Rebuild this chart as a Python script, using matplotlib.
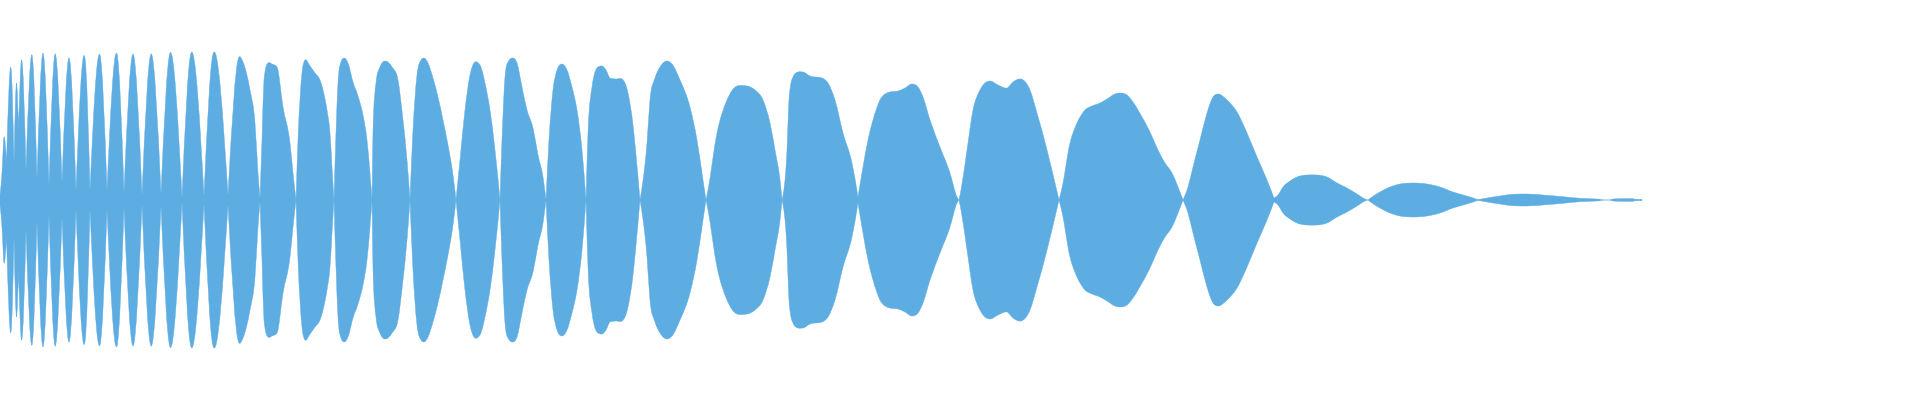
import numpy as np
import matplotlib
matplotlib.use("Agg")
import matplotlib.pyplot as plt
from matplotlib.path import Path
from matplotlib.patches import PathPatch

# Sample positions (time) and waveform amplitude (mirrored around 0)
t = [0, 2, 4, 6.5, 11, 14, 16.5, 18.5, 21.5, 26, 32, 37, 43, 49, 55, 62, 69, 76,
     85, 90, 100, 107, 117, 124, 133, 142, 151, 161, 170, 182, 191, 204, 213, 228,
     239, 243, 250, 255, 258, 260,
     262, 264, 268, 272, 277, 283, 290, 293, 296,
     298, 302, 305, 310, 315, 320, 323, 327, 330, 332, 334,
     336, 338, 341, 344, 348, 353, 358, 363, 367, 370, 372,
     373, 376, 380, 385, 392, 398, 403, 407, 410,
     413, 417, 421, 424, 428, 433, 438, 443, 448, 453, 456,
     460, 465, 470, 475, 480, 485, 490, 495, 500,
     502, 505, 508, 513, 517, 522, 527, 533, 538, 543, 546,
     549, 553, 557, 562, 567, 572, 577, 582, 586,
     588, 592, 595, 598, 602, 606, 610, 616, 622, 628, 633, 636, 640,
     647, 650, 655, 660, 667, 672, 680, 690, 697, 703, 706,
     708, 717, 727, 737, 747, 755, 763, 770, 775, 780, 782,
     787, 789, 793, 798, 803, 810, 822, 828, 835, 843, 852, 858,
     863, 868, 873, 880, 890, 898, 905, 912, 918, 923, 930, 940, 950, 957, 959,
     961, 967, 973, 980, 985, 990, 998, 1007, 1013, 1021, 1030, 1037, 1047, 1055, 1059,
     1062, 1070, 1077, 1085, 1092, 1100, 1107, 1115, 1120, 1127, 1133, 1142, 1150,
     1158, 1165, 1172, 1178, 1183,
     1188, 1193, 1200, 1207, 1213, 1218, 1227, 1237, 1247, 1257, 1267, 1274,
     1278, 1283, 1290, 1297, 1307, 1317, 1327, 1337, 1347, 1357, 1365, 1368,
     1372, 1380, 1390, 1400, 1413, 1427, 1440, 1453, 1467, 1477,
     1480, 1487, 1500, 1513, 1527, 1543, 1563, 1580, 1597, 1600, 1603,
     1610, 1612, 1618, 1633, 1635, 1642]

amp = [5, 27, 63, 37, 132, 37, 117, 70, 140, 30, 145, 22, 147, 15, 146, 18, 142, 10,
       142, 10, 145, 10, 146, 8, 146, 5, 146, 6, 147, 3, 147, 4, 146, 5,
       143, 138, 110, 77, 27, 2,
       60, 120, 137, 136, 133, 93, 57, 27, 0,
       60, 127, 140, 134, 127, 120, 110, 90, 67, 33, 0,
       67, 117, 138, 142, 137, 118, 104, 85, 60, 27, 0,
       67, 117, 133, 139, 133, 120, 80, 40, 0,
       70, 125, 140, 142, 137, 122, 103, 80, 55, 25, 0,
       40, 90, 125, 138, 135, 117, 90, 50, 0,
       60, 123, 138, 142, 137, 113, 90, 72, 45, 23, 0,
       60, 110, 130, 136, 130, 113, 90, 50, 0,
       67, 113, 128, 133, 134, 130, 122, 121, 121, 107, 75, 45, 0,
       57, 100, 122, 133, 139, 136, 120, 93, 60, 20, 0,
       10, 67, 100, 114, 114, 110, 100, 77, 50, 20, 0,
       50, 100, 123, 128, 128, 124, 122, 117, 100, 67, 37, 3,
       33, 60, 80, 100, 108, 109, 112, 116, 113, 103, 80, 53, 27, 3, 0,
       10, 50, 90, 110, 117, 119, 115, 112, 118, 121, 110, 87, 50, 17, 0,
       12, 57, 77, 90, 94, 97, 101, 106, 107, 105, 98, 83, 68,
       50, 37, 27, 13, 0,
       13, 33, 60, 87, 103, 106, 100, 88, 67, 43, 20, 2,
       5, 13, 19, 23, 25, 25, 23, 17, 12, 6, 1, 0,
       3, 8, 13, 16, 17, 16, 13, 8, 4, 0.7,
       0.7, 2, 4, 5.7, 6, 5, 3.3, 1.7, 1.0, 0.8, 0,
       0, 0.8, 1.2, 1.2, 0.8, 0.8]

COLOR = "#5dade2"


def bezier_segments(x, y):
    """Smooth cubic curve through the samples, with sharp pinches at lobe minima."""
    x = np.asarray(x, float)
    y = np.asarray(y, float)
    n = len(x)
    h = np.diff(x)
    s = np.diff(y) / h
    corner = np.zeros(n, bool)
    corner[0] = corner[-1] = True
    for i in range(1, n - 1):
        if y[i] <= y[i - 1] and y[i] <= y[i + 1] and y[i] <= 0.5 * max(y[i - 1], y[i + 1]):
            corner[i] = True
    m = np.zeros(n)
    for i in range(1, n - 1):
        if corner[i]:
            continue
        h0, h1 = h[i - 1], h[i]
        s0, s1 = s[i - 1], s[i]
        p = (s0 * h1 + s1 * h0) / (h0 + h1)
        if s0 * s1 <= 0:
            # local extremum: keep it rounded but not flat-limited
            m[i] = 0.5 * p
        else:
            m[i] = np.sign(p) * min(abs(p), 2.5 * min(abs(s0), abs(s1)))
    segs = []
    for i in range(n - 1):
        if corner[i]:
            ms = s[i] if corner[i + 1] else (3 * s[i] - m[i + 1]) / 2
        else:
            ms = m[i]
        if corner[i + 1]:
            me = s[i] if corner[i] else (3 * s[i] - m[i]) / 2
        else:
            me = m[i + 1]
        dx = h[i]
        segs.append(((x[i], y[i]),
                     (x[i] + dx / 3, max(0.0, y[i] + ms * dx / 3)),
                     (x[i + 1] - dx / 3, max(0.0, y[i + 1] - me * dx / 3)),
                     (x[i + 1], y[i + 1])))
    return segs


segs = bezier_segments(t, amp)
verts = [segs[0][0]]
codes = [Path.MOVETO]
for p0, c1, c2, p1 in segs:
    verts += [c1, c2, p1]
    codes += [Path.CURVE4] * 3
last = segs[-1][3]
verts.append((last[0], -last[1]))
codes.append(Path.LINETO)
for p0, c1, c2, p1 in reversed(segs):
    verts += [(c2[0], -c2[1]), (c1[0], -c1[1]), (p0[0], -p0[1])]
    codes += [Path.CURVE4] * 3
verts.append(verts[0])
codes.append(Path.CLOSEPOLY)

fig = plt.figure(figsize=(19.2, 4), dpi=100)
ax = fig.add_axes([0, 0, 1, 1])
ax.add_patch(PathPatch(Path(verts, codes), facecolor=COLOR, edgecolor=COLOR,
                       linewidth=0.3))
ax.set_xlim(0, 1920)
ax.set_ylim(-200, 200)
ax.axis("off")
fig.savefig("out.png", dpi=100, facecolor="white")
